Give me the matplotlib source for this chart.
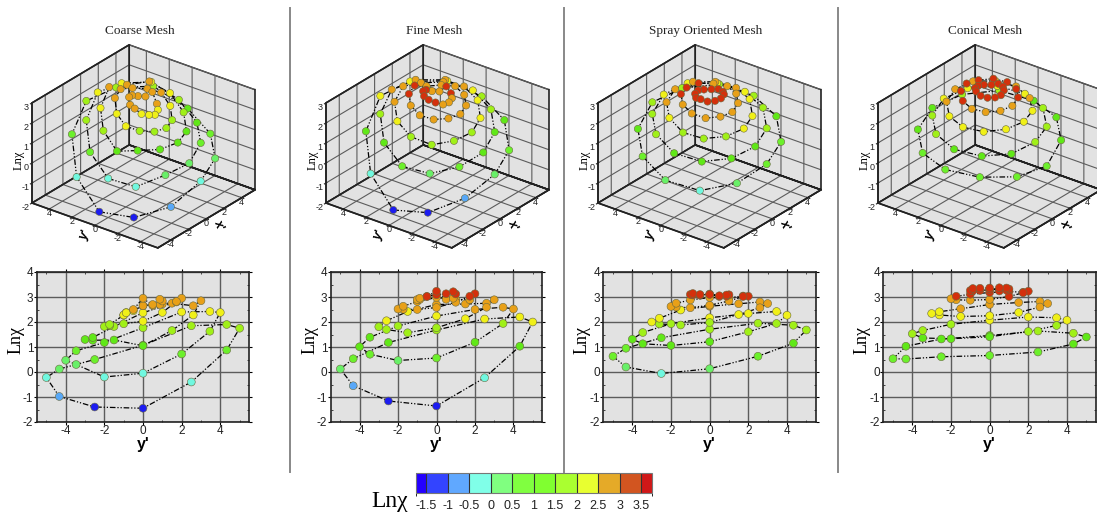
import matplotlib
matplotlib.use('Agg')
import matplotlib.pyplot as plt
from matplotlib.colors import ListedColormap, BoundaryNorm
from matplotlib.cm import ScalarMappable
from matplotlib.lines import Line2D
from mpl_toolkits.mplot3d import proj3d

plt.rcParams['axes.unicode_minus'] = False

W, H = 1097, 513

# sample rings, radius 5 down to 1, all meshes use the same stations
X_RINGS = [
    [-5, -4.33, -2.5, 0, 2.5, 4.33, 5, 4.33, 2.5, 0, -2.5, -4.33],
    [-4, -3.46, -2, 0, 2, 3.46, 4, 3.46, 2, 0, -2, -3.46],
    [-3, -2.6, -1.5, 0, 1.5, 2.6, 3, 2.6, 1.5, 0, -1.5, -2.6],
    [-2, -1.73, -1, 0, 1, 1.73, 2, 1.73, 1, 0, -1, -1.73],
    [-1, -0.87, -0.5, 0, 0.5, 0.87, 1, 0.87, 0.5, 0, -0.5, -0.87],
]
Y_RINGS = [
    [0, -2.5, -4.33, -5, -4.33, -2.5, 0, 2.5, 4.33, 5, 4.33, 2.5],
    [0, -2, -3.46, -4, -3.46, -2, 0, 2, 3.46, 4, 3.46, 2],
    [0, -1.5, -2.6, -3, -2.6, -1.5, 0, 1.5, 2.6, 3, 2.6, 1.5],
    [0, -1, -1.73, -2, -1.73, -1, 0, 1, 1.73, 2, 1.73, 1],
    [0, -0.5, -0.87, -1, -0.87, -0.5, 0, 0.5, 0.87, 1, 0.87, 0.5],
]

# Ln chi per ring
COARSE = [
    [-1.45, -1.4, -0.98, -0.22, 0.12, 0.5, 1.07, 1.85, 1.9, 1.75, 0.88, -0.4],
    [-0.05, -0.2, 0.3, 0.47, 0.85, 1.18, 1.77, 2.4, 2.42, 2.38, 1.63, 0.72],
    [1.05, 1.28, 1.27, 1.3, 1.38, 1.82, 2.37, 2.75, 2.65, 2.85, 2.28, 1.66],
    [2.03, 1.93, 1.85, 1.82, 1.9, 2.27, 2.66, 2.72, 2.8, 2.95, 2.82, 2.38],
    [2.65, 2.45, 2.38, 2.28, 2.37, 2.5, 2.95, 2.66, 2.7, 2.84, 2.91, 2.7],
]
FINE = [
    [-1.36, -1.16, -0.55, 0.12, 0.53, 1.18, 1.68, 2.12, 2.2, 2.0, 1.03, -0.23],
    [0.56, 0.46, 0.71, 1.01, 1.39, 1.84, 2.24, 2.5, 2.59, 2.52, 1.94, 1.19],
    [1.77, 1.57, 1.7, 1.81, 2.05, 2.42, 2.7, 2.72, 2.75, 2.89, 2.59, 2.13],
    [2.58, 2.5, 2.51, 2.52, 2.63, 2.82, 2.98, 2.9, 2.89, 3.13, 3.03, 2.79],
    [3.09, 3.02, 2.9, 2.9, 2.95, 3.02, 3.23, 2.91, 2.95, 3.12, 3.21, 3.13],
]
SPRAY = [
    [0.13, -0.06, 0.2, 0.63, 0.95, 1.37, 1.71, 1.95, 1.87, 1.68, 1.15, 0.63],
    [1.21, 1.06, 1.13, 1.31, 1.58, 1.93, 2.17, 2.34, 2.42, 2.27, 1.94, 1.61],
    [1.98, 1.88, 1.92, 2.0, 2.15, 2.48, 2.63, 2.73, 2.8, 2.74, 2.57, 2.3],
    [2.67, 2.57, 2.6, 2.62, 2.75, 2.88, 2.98, 2.97, 3.04, 3.03, 3.02, 2.84],
    [3.12, 3.07, 3.08, 3.1, 3.14, 3.1, 3.1, 3.02, 3.03, 3.09, 3.08, 3.05],
]
CONICAL = [
    [0.66, 0.61, 0.52, 0.53, 1.03, 1.32, 1.46, 1.64, 1.55, 1.4, 1.12, 0.8],
    [1.41, 1.33, 1.36, 1.53, 1.66, 1.91, 2.07, 2.2, 2.17, 2.07, 1.86, 1.62],
    [2.25, 2.22, 2.28, 2.34, 2.41, 2.53, 2.7, 2.78, 2.82, 2.74, 2.6, 2.38],
    [2.9, 2.87, 2.89, 2.93, 3.03, 3.11, 3.18, 3.22, 3.19, 3.23, 3.17, 3.02],
    [3.29, 3.26, 3.25, 3.26, 3.34, 3.35, 3.36, 3.24, 3.27, 3.32, 3.36, 3.37],
]

TITLES = ['Coarse Mesh', 'Fine Mesh', 'Spray Oriented Mesh', 'Conical Mesh']
MESHES = [COARSE, FINE, SPRAY, CONICAL]

LEVELS = [-1.75, -1.5, -1, -0.5, 0, 0.5, 1, 1.5, 2, 2.5, 3, 3.5, 3.75]
BAR_COLORS = ['#2400ff', '#3344ff', '#60a8ff', '#80ffe8', '#80ff80', '#80ff40',
              '#80ff30', '#aaff30', '#e8ff30', '#e5aa28', '#d25520', '#d01818']
MARK_COLORS = ['#1800f0', '#1c1cf0', '#58a8f8', '#70f8e0', '#68f068', '#6cf02c',
               '#60e818', '#a0f018', '#f0f018', '#e8a018', '#d4300c', '#d02c10']
LEVEL_LABELS = ['-1.5', '-1', '-0.5', '0', '0.5', '1', '1.5', '2', '2.5', '3', '3.5']

# pixel layout per panel: title centre, left corner of the 3d floor, 2d axes box
TITLE_X = [140, 434, 706, 985]
BOX_LEFT = [32, 326, 598, 878]
AX2D = [(36.7, 249.3), (330.7, 542.3), (603.3, 816), (883.3, 1096)]
SEPARATORS = [289.5, 564, 838]

# box outline of the 3d view: floor edges, upright edges, wall tops
BOX_X = [-5.5, 5.5, 5.5, -5.5, -5.5, -5.5, 5.5, 5.5, 5.5, 5.5, 5.5]
BOX_Y = [5.5, 5.5, -5.5, -5.5, 5.5, 5.5, 5.5, 5.5, -5.5, -5.5, -5.5]
BOX_Z = [-2, -2, -2, -2, -2, 3, 3, -2, -2, 3, 3]

bar_cmap = ListedColormap(BAR_COLORS)
mark_cmap = ListedColormap(MARK_COLORS)
norm = BoundaryNorm(LEVELS, bar_cmap.N)
DASH = (0, (4.5, 1.5, 1, 1.5, 1, 1.5))
SERIF = 'Liberation Serif'
SANS = 'Liberation Sans'

fig = plt.figure(figsize=(W / 100, H / 100), dpi=100)


def place_3d(ax, left_px):
    # find the axes square that puts the floor corners on the wanted pixels
    size = 400
    for i in range(2):
        ax.set_position([0.1, 0.1, size / W, size / H])
        x2, y2, _ = proj3d.proj_transform([-5.5, 5.5], [5.5, -5.5], [-2, -2], ax.get_proj())
        pts = ax.transData.transform(list(zip(x2, y2)))
        size = size * 223 / (pts[1][0] - pts[0][0])
    ax.set_position([0.1, 0.1, size / W, size / H])
    pts = ax.transData.transform(list(zip(x2, y2)))
    dx = left_px - pts[0][0]
    dy = (H - 203) - pts[0][1]
    ax.set_position([0.1 + dx / W, 0.1 + dy / H, size / W, size / H])


for i in range(4):
    fig.text(TITLE_X[i] / W, 1 - 31 / H, TITLES[i], family=SERIF, fontsize=9.5,
             ha='center', va='center', color='#222222')

    # 3d view
    ax = fig.add_subplot(projection='3d', proj_type='ortho', computed_zorder=False)
    ax.set_xlim(-5.5, 5.5, view_margin=0)
    ax.set_ylim(-5.5, 5.5, view_margin=0)
    ax.set_zlim(-2, 3, view_margin=0)
    ax.set_box_aspect((1, 1, 0.71))
    ax.view_init(elev=27.5, azim=217.7)
    ax.patch.set_alpha(0)
    place_3d(ax, BOX_LEFT[i])

    ax.set_xticks([-4, -2, 0, 2, 4])
    ax.set_yticks([-4, -2, 0, 2, 4])
    ax.set_zticks([-2, -1, 0, 1, 2, 3])
    ax.tick_params(labelsize=6.5, pad=-8, colors='#222222', labelfontfamily=SANS)
    ax.zaxis.set_tick_params(pad=-5.5)
    for axis in [ax.xaxis, ax.yaxis, ax.zaxis]:
        axis.set_pane_color('#e2e2e2')
        axis.pane.set_edgecolor('#222222')
        axis._axinfo['grid'].update(color='#5c5c5c', linewidth=0.8)
        axis.line.set_color('#222222')
        axis.line.set_linewidth(1.1)
    ax.plot(BOX_X, BOX_Y, BOX_Z, color='#222222', lw=1.2, zorder=4)

    all_x, all_y, all_z = [], [], []
    for xr, yr, zr in zip(X_RINGS, Y_RINGS, MESHES[i]):
        ax.plot(xr + xr[:1], yr + yr[:1], zr + zr[:1], color='black', lw=0.9, ls=DASH, zorder=5)
        all_x += xr
        all_y += yr
        all_z += zr
    ax.scatter(all_x, all_y, all_z, c=all_z, cmap=mark_cmap, norm=norm, s=27, depthshade=False,
               edgecolors='#6a6a40', linewidths=0.4, zorder=6, alpha=1)

    left = BOX_LEFT[i]
    fig.text((left - 13) / W, 1 - 160 / H, 'Ln\u03c7', family=SERIF, fontsize=9, rotation=90,
             ha='center', va='center')
    fig.text((left + 53) / W, 1 - 235 / H, "y'", family=SANS, fontsize=9, fontweight='bold',
             rotation=60, ha='center', va='center')
    fig.text((left + 186) / W, 1 - 226 / H, "x'", family=SANS, fontsize=9, fontweight='bold',
             rotation=-70, ha='center', va='center')

    # y' - Ln chi view
    x0, x1 = AX2D[i]
    ax2 = fig.add_axes([x0 / W, 1 - 422 / H, (x1 - x0) / W, 150 / H], facecolor='#e2e2e2')
    for xr, yr, zr in zip(X_RINGS, Y_RINGS, MESHES[i]):
        ax2.plot(yr + yr[:1], zr + zr[:1], color='black', lw=0.9, ls=DASH, zorder=3)
    ax2.scatter(all_y, all_z, c=all_z, cmap=mark_cmap, norm=norm, s=32, edgecolors='#6a6a40',
                linewidths=0.4, zorder=4)
    ax2.set_xlim(-5.5, 5.5)
    ax2.set_ylim(-2, 4)
    ax2.set_xticks([-4, -2, 0, 2, 4])
    ax2.set_yticks([-2, -1, 0, 1, 2, 3, 4])
    ax2.set_xticks([-5, -3, -1, 1, 3, 5], minor=True)
    ax2.set_yticks([-1.5, -0.5, 0.5, 1.5, 2.5, 3.5], minor=True)
    ax2.grid(True, color='#5c5c5c', lw=1)
    ax2.set_axisbelow(True)
    ax2.tick_params(which='major', direction='out', length=2, width=0.8, pad=0.5, labelsize=8.5,
                    top=True, right=True, labelfontfamily=SANS, labelcolor='#222222')
    ax2.tick_params(which='minor', direction='in', length=1.5, width=0.5, top=True, right=True)
    for s in ax2.spines.values():
        s.set_linewidth(1.2)
        s.set_color('#222222')
    ax2.set_xlabel("y'", family=SANS, fontsize=11.5, fontweight='bold', va='center')
    ax2.xaxis.set_label_coords(0.5, -0.15)
    ax2.set_ylabel('Ln\u03c7', family=SERIF, fontsize=13, va='center')
    ax2.yaxis.set_label_coords(-0.099, 0.55)

for x in SEPARATORS:
    fig.add_artist(Line2D([x / W, x / W], [1 - 8 / H, 1 - 472 / H], color='#888888', lw=1.4))

# colour key
cax = fig.add_axes([415.7 / W, 1 - 492.7 / H, 236 / W, 19.4 / H])
cb = fig.colorbar(ScalarMappable(norm=norm, cmap=bar_cmap), cax=cax, orientation='horizontal',
                  spacing='proportional', drawedges=True, ticks=LEVELS[1:-1])
cb.ax.set_xticklabels(LEVEL_LABELS, family=SANS, fontsize=9, color='#222222')
cb.ax.tick_params(length=0, pad=5)
cb.outline.set_edgecolor('#777777')
cb.dividers.set_color('#333333')
cb.dividers.set_linewidth(0.8)
fig.text(390 / W, 1 - 501 / H, 'Ln\u03c7', family=SERIF, fontsize=17, ha='center', va='center')

fig.savefig('out.png', dpi=100)
